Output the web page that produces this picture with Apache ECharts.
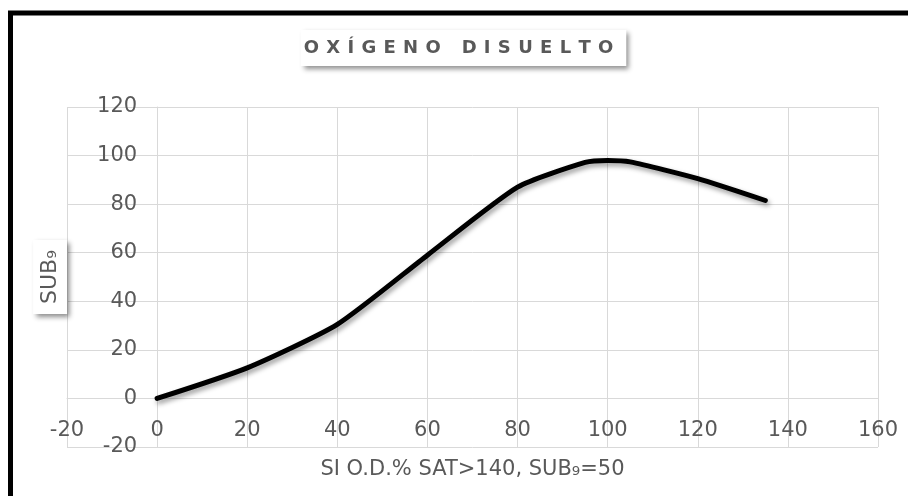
<!DOCTYPE html>
<html>
<head>
<meta charset="utf-8">
<script src="https://cdn.jsdelivr.net/npm/echarts@6/dist/echarts.min.js"></script>
<style>html,body{margin:0;padding:0;background:#fff}#c{width:908px;height:496px}</style>
</head>
<body>
<div id="c"></div>
<script>
const chartTitle = 'OXÍGENO DISUELTO';
const xAxisTitle = 'SI O.D.% SAT>140, SUB₉=50';
const yAxisTitle = 'SUB₉';
const odSaturation = [0, 20, 40, 60, 80, 95, 100, 105, 120, 135];
const subIndex = [0, 12.6, 30.5, 59, 87, 97.2, 98, 97.4, 90.5, 81.5];
const xTicks = [-20, 0, 20, 40, 60, 80, 100, 120, 140, 160];
const yTicks = [-20, 0, 20, 40, 60, 80, 100, 120];

const gray = '#595959';
const gridGray = '#d9d9d9';
const axisFont = 'DejaVu Sans';

const richTitle = chartTitle.split('').map(ch => ch === ' ' ? '{s| }' : '{c|' + ch + '}').join('');

const chart = echarts.init(document.getElementById('c'), null, {renderer: 'canvas'});
const option = {
  backgroundColor: '#fff',
  animation: false,
  title: {
    text: richTitle,
    left: 297,
    top: 30,
    padding: [9, 13, 9, 3],
    backgroundColor: '#fff',
    shadowColor: 'rgba(0,0,0,0.45)',
    shadowBlur: 5,
    shadowOffsetX: 3,
    shadowOffsetY: 3,
    textStyle: {
      fontFamily: axisFont, fontWeight: 'bold', fontSize: 18, color: gray,
      rich: {
        c: {fontFamily: axisFont, fontWeight: 'bold', fontSize: 18, color: gray, padding: [0, 3.65]},
        s: {fontFamily: axisFont, fontWeight: 'bold', fontSize: 18, color: gray, padding: [0, 3.65]}
      }
    }
  },
  graphic: [{
    type: 'rect', silent: true, z: 100,
    shape: {x: 10.5, y: 13, width: 2000, height: 2000},
    style: {fill: 'none', stroke: '#000', lineWidth: 5}
  }],
  grid: {left: 67, right: 30, top: 107, bottom: 49, containLabel: false, outerBoundsMode: 'none'},
  xAxis: {
    type: 'value',
    position: 'bottom',
    offset: 0,
    min: xTicks[0], max: xTicks[xTicks.length - 1], interval: xTicks[1] - xTicks[0],
    axisLine: {show: true, onZero: false, lineStyle: {color: gridGray, width: 1}},
    axisTick: {show: false},
    splitLine: {show: true, lineStyle: {color: gridGray, width: 1}},
    axisLabel: {color: gray, fontFamily: axisFont, fontSize: 21, margin: 22},
    name: xAxisTitle,
    nameLocation: 'middle',
    nameGap: 61,
    nameTextStyle: {color: gray, fontFamily: axisFont, fontSize: 21}
  },
  yAxis: {
    type: 'value',
    position: 'left',
    offset: 0,
    min: yTicks[0], max: yTicks[yTicks.length - 1], interval: yTicks[1] - yTicks[0],
    axisLine: {show: true, onZero: false, lineStyle: {color: gridGray, width: 1}},
    axisTick: {show: false},
    splitLine: {show: true, lineStyle: {color: gridGray, width: 1}},
    axisLabel: {color: gray, fontFamily: axisFont, fontSize: 21, margin: 20},
    name: yAxisTitle,
    nameLocation: 'middle',
    nameRotate: 90,
    nameGap: 90,
    nameTextStyle: {
      color: gray, fontFamily: axisFont, fontSize: 22,
      backgroundColor: '#fff', padding: [6, 10],
      shadowColor: 'rgba(0,0,0,0.45)', shadowBlur: 5, shadowOffsetX: 3, shadowOffsetY: 3
    }
  },
  series: [{
    type: 'line',
    data: odSaturation.map((x, i) => [x, subIndex[i]]),
    smooth: 0.2,
    showSymbol: false,
    symbol: 'none',
    lineStyle: {
      color: '#000', width: 5, cap: 'round', join: 'round',
      shadowColor: 'rgba(0,0,0,0.4)', shadowBlur: 5, shadowOffsetX: 2, shadowOffsetY: 3
    }
  }]
};
chart.setOption(option);

// Move both axes so they cross at the data origin (0, 0), like the reference.
const origin = chart.convertToPixel({gridIndex: 0}, [0, 0]);
const corner = chart.convertToPixel({gridIndex: 0}, [xTicks[0], yTicks[0]]);
chart.setOption({
  xAxis: {offset: -(corner[1] - origin[1])},
  yAxis: {offset: -(origin[0] - corner[0])}
});
</script>
</body>
</html>
